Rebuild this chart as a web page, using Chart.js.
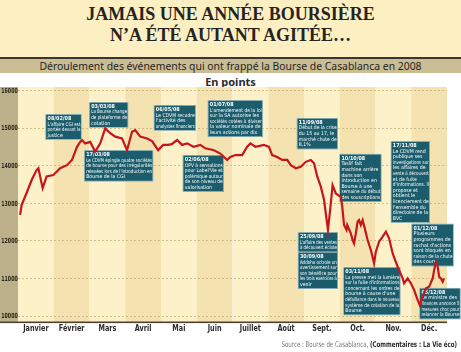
<!DOCTYPE html>
<html lang="fr">
<head>
<meta charset="utf-8">
<script src="https://cdn.jsdelivr.net/npm/chart.js@4/dist/chart.umd.min.js"></script>
<style>
  html, body { margin: 0; padding: 0; background: #fff; }
  #cadre { position: relative; width: 461px; height: 352px; overflow: hidden; }
  .abs { position: absolute; left: 0; width: 461px; text-align: center; }
  #entete { top: 0; height: 57px; background: #fcf0c3; }
  #titre { top: 4px; font: bold 18px/21px "Liberation Serif", "DejaVu Serif", serif; color: #262320; }
  #filet { top: 57px; height: 1.6px; background: #3a3732; }
  #bandeau { top: 58.6px; height: 14.4px; background: #c9bd94; font: 10.4px/14.4px "Noto Sans", "Open Sans", sans-serif; color: #27241c; }
  #unite { top: 75px; font: bold 11px/14px "Noto Sans", "Open Sans", sans-serif; color: #2a2a2a; }
  #source { top: 338px; left: auto; right: 4px; width: auto; text-align: right; white-space: nowrap;
            font: 7.8px/14px "Liberation Sans Narrow", "DejaVu Sans Condensed", sans-serif; color: #7a7670;
            transform: scaleX(0.78); transform-origin: right center; }
  #source b { color: #2a2a2a; }
  canvas { position: absolute; left: 0; top: 0; }
</style>
</head>
<body>
<div id="cadre">
  <div id="entete" class="abs"></div>
  <div id="titre" class="abs">JAMAIS UNE ANNÉE BOURSIÈRE<br>N’A ÉTÉ AUTANT AGITÉE…</div>
  <div id="filet" class="abs"></div>
  <div id="bandeau" class="abs">Déroulement des événements qui ont frappé la Bourse de Casablanca en 2008</div>
  <div id="unite" class="abs">En points</div>
  <canvas id="graphique" width="461" height="352"></canvas>
  <div id="source" class="abs">Source : Bourse de Casablanca, <b>(Commentaires : La Vie éco)</b></div>
</div>
<script>
// Mois affichés sous l'axe
const nomsMois = ['Janvier', 'Février', 'Mars', 'Avril', 'Mai', 'Juin', 'Juillet', 'Août', 'Sept.', 'Oct.', 'Nov.', 'Déc.'];

// Graduations de l'axe vertical (en points)
const graduations = [10000, 11000, 12000, 13000, 14000, 15000, 16000];

// Position dans l'année (en mois écoulés) et niveau de l'indice
const mois = [
  0.06, 0.10, 0.24, 0.38, 0.43, 0.52, 0.57, 0.69, 0.80, 0.99,
  1.18, 1.37, 1.51, 1.60, 1.65, 1.74, 1.79, 1.88, 2.02, 2.16,
  2.30, 2.44, 2.58, 2.72, 2.91, 3.05, 3.19, 3.28, 3.42, 3.61,
  3.75, 3.92, 4.06, 4.20, 4.30, 4.45, 4.59, 4.73, 4.91, 5.10,
  5.24, 5.48, 5.66, 5.85, 5.94, 6.08, 6.27, 6.41, 6.50, 6.64,
  6.88, 7.02, 7.11, 7.25, 7.39, 7.53, 7.63, 7.77, 7.91, 8.05,
  8.19, 8.28, 8.37, 8.47, 8.56, 8.67, 8.73, 8.80, 8.89, 9.03,
  9.07, 9.12, 9.19, 9.21, 9.31, 9.36, 9.40, 9.45, 9.50, 9.54,
  9.59, 9.64, 9.70, 9.78, 9.87, 9.96, 10.01, 10.10, 10.20, 10.29,
  10.38, 10.48, 10.62, 10.76, 10.80, 10.90, 10.99, 11.08, 11.18, 11.24,
  11.32, 11.41, 11.50, 11.60, 11.64, 11.69, 11.74, 11.78, 11.83, 11.88,
  11.92
];
const points = [
  12680, 12940, 13260, 13600, 13700, 13870, 13920, 13390, 13700, 13740,
  13920, 14000, 14140, 14360, 14490, 14620, 14670, 14580, 14620, 14360,
  14580, 14980, 14850, 14760, 14710, 14400, 14890, 14930, 14760, 14710,
  14640, 14400, 14540, 14540, 14560, 14670, 14540, 14580, 14490, 14540,
  14450, 14400, 14310, 14140, 14220, 14270, 14270, 14490, 14580, 14490,
  14540, 14490, 14270, 14220, 14140, 14140, 14000, 13920, 13960, 14090,
  14140, 14050, 13700, 13430, 13080, 12280, 12800, 13470, 13250, 13160,
  12900, 12410, 12280, 12410, 12190, 12010, 11920, 12190, 12500, 12540,
  12410, 12540, 12320, 12010, 11745, 11390, 11700, 11965, 12100, 12230,
  12055, 11655, 11300, 10990, 10860, 10990, 10860, 10680, 10415, 10280,
  10505, 10725, 10770, 10990, 11210, 11430, 11300, 11035, 10990, 10900,
  10990
];

// Dates et commentaires des événements
const dates = ['08/02/08', '03/03/08', '17/03/08', '06/05/08', '02/06/08', '01/07/08', '11/09/08',
  '10/10/08', '17/11/08', '25/09/08', '30/09/08', '03/11/08', '01/12/08', '05/12/08'];
const commentaires = [
  ["L'affaire CGI est", 'portée devant la', 'justice'],
  ['La Bourse change', 'de plateforme de', 'cotation'],
  ['Le CDVM épingle quatre sociétés', 'de bourse pour des irrégularités', "relevées lors de l'introduction en", 'Bourse de la CGI'],
  ['Le CDVM recadre', "l'activité des", 'analystes financiers'],
  ['OPV à sensations', "pour Label'Vie et", 'polémique autour', 'de son niveau de', 'valorisation'],
  ["L'amendement de la loi", 'sur la SA autorise les', 'sociétés cotées à diviser', 'la valeur nominale de', 'leurs actions par dix'],
  ['Début de la crise', 'du 15 au 17, le', 'marché chute de', '8,1%'],
  ['Taslif fait', 'machine arrière', 'dans son', 'introduction en', 'Bourse à une', 'semaine du début', 'des souscriptions'],
  ['Le CDVM rend', 'publique ses', 'investigations sur', 'les affaires de', 'vente à découvert', 'et de fuite', "d'informations. Il", 'propose et', 'obtient le', 'licenciement de', "l'ensemble du", 'directoire de la', 'BVC'],
  ["L'affaire des ventes", 'à découvert éclate'],
  ['Addoha octroie un', 'avertissement sur', 'son bénéfice pour', 'les trois exercices à', 'venir'],
  ['La presse met la lumière', "sur la fuite d'informations", 'concernant les ordres de', "bourse à cause d'une", 'défaillance dans le nouveau', 'système de cotation de la', 'Bourse'],
  ['Plusieurs', 'programmes de', "rachat d'actions", 'sont bloqués en', 'raison de la chute', 'des cours'],
  ['Le ministre des', 'finances annonce 5', 'mesures choc pour', 'relancer la Bourse']
];

// Placement des encadrés (coin haut gauche en unités des axes) et largeur en pixels
const placements = [
  { x: 0.77, y: 15360, l: 36 },
  { x: 1.99, y: 15680, l: 39 },
  { x: 1.85, y: 14400, l: 69 },
  { x: 3.80, y: 15600, l: 42 },
  { x: 4.61, y: 14270, l: 41 },
  { x: 5.31, y: 15730, l: 55 },
  { x: 7.80, y: 15255, l: 41 },
  { x: 8.99, y: 14300, l: 42 },
  { x: 10.43, y: 14640, l: 39 },
  { x: 7.83, y: 12220, l: 40 },
  { x: 7.83, y: 11690, l: 40 },
  { x: 9.10, y: 11290, l: 57 },
  { x: 11.01, y: 12440, l: 42 },
  { x: 11.23, y: 10735, l: 41 }
];

const ETROIT = '"Liberation Sans Narrow", "DejaVu Sans Condensed", "Liberation Sans", sans-serif';

// texte resserré horizontalement (police condensée du journal)
function texteSerre(ctx, t, x, y, serrage) {
  ctx.save();
  ctx.translate(x, y);
  ctx.scale(serrage, 1);
  ctx.fillText(t, 0, 0);
  ctx.restore();
}

// Fond : bandes des mois, bandeau de l'axe, lignes pointillées, encadrés
const fond = {
  id: 'fond',
  beforeDraw(chart) {
    const { ctx, chartArea: { left, right, top, bottom }, scales: { x, y } } = chart;
    ctx.save();
    for (let i = 0; i < 12; i++) {
      const x0 = x.getPixelForValue(i);
      const x1 = x.getPixelForValue(i + 1);
      ctx.fillStyle = i % 2 ? '#f4e3b1' : '#fdf1c9';
      ctx.fillRect(x0, top, x1 - x0, bottom - top);
    }
    ctx.fillStyle = '#bdb18b';
    ctx.fillRect(0, top, left, bottom - top);
    ctx.setLineDash([2, 2]);
    ctx.strokeStyle = 'rgba(190, 168, 110, 0.7)';
    ctx.lineWidth = 1;
    graduations.forEach(v => {
      const py = Math.round(y.getPixelForValue(v)) + 0.5;
      ctx.beginPath();
      ctx.moveTo(left, py);
      ctx.lineTo(right, py);
      ctx.stroke();
    });
    ctx.restore();
  },
  beforeDatasetsDraw(chart) {
    const { ctx, chartArea: { left, right, bottom }, scales: { x, y } } = chart;
    ctx.save();
    // étiquettes de l'axe vertical
    ctx.fillStyle = '#2a2618';
    ctx.font = 'bold 7px ' + ETROIT;
    ctx.textAlign = 'center';
    ctx.textBaseline = 'middle';
    graduations.forEach(v => texteSerre(ctx, String(v), left / 2 + 0.5, y.getPixelForValue(v) + 1, 0.75));
    // noms des mois
    ctx.fillStyle = '#2c2a26';
    ctx.font = 'bold 9px ' + ETROIT;
    nomsMois.forEach((m, i) => texteSerre(ctx, m, x.getPixelForValue(i + 0.5), bottom + 6.5, 0.8));
    // encadrés des événements (la courbe passe par-dessus)
    const lh = 5.6, pad = 1.6;
    ctx.textAlign = 'left';
    ctx.textBaseline = 'top';
    placements.forEach((p, i) => {
      const bx = x.getPixelForValue(p.x);
      const by = y.getPixelForValue(p.y);
      const lignes = commentaires[i];
      const h = pad * 2 + lh * (lignes.length + 1);
      ctx.fillStyle = '#1b5d6c';
      ctx.fillRect(bx, by, p.l, h);
      ctx.strokeStyle = 'rgba(235, 245, 245, 0.75)';
      ctx.lineWidth = 0.6;
      ctx.strokeRect(bx + 0.3, by + 0.3, p.l - 0.6, h - 0.6);
      ctx.fillStyle = '#ffffff';
      ctx.font = 'bold 5.4px ' + ETROIT;
      ctx.fillText(dates[i], bx + 2, by + pad + 0.3);
      ctx.font = '5.2px ' + ETROIT;
      lignes.forEach((t, k) => ctx.fillText(t, bx + 2, by + pad + 0.3 + lh * (k + 1), p.l - 3));
    });
    // trait de l'axe horizontal
    ctx.fillStyle = '#4a4233';
    ctx.fillRect(0, bottom - 0.5, right, 1.6);
    ctx.restore();
  }
};

new Chart(document.getElementById('graphique').getContext('2d'), {
  type: 'line',
  data: {
    datasets: [{
      data: mois.map((m, i) => ({ x: m, y: points[i] })),
      borderColor: '#c4161c',
      borderWidth: 2.2,
      pointRadius: 0,
      tension: 0,
      fill: false
    }]
  },
  options: {
    responsive: false,
    animation: false,
    layout: { padding: { top: 87, right: 14, bottom: 0, left: 0 } },
    plugins: { legend: { display: false }, tooltip: { enabled: false } },
    scales: {
      x: {
        type: 'linear', min: 0, max: 12,
        grid: { display: false, drawTicks: false }, border: { display: false },
        ticks: { display: false },
        afterFit: s => { s.height = 30; }
      },
      y: {
        min: 9830, max: 16080,
        grid: { display: false, drawTicks: false }, border: { display: false },
        ticks: { display: false },
        afterFit: s => { s.width = 18; }
      }
    }
  },
  plugins: [fond]
});
</script>
</body>
</html>
